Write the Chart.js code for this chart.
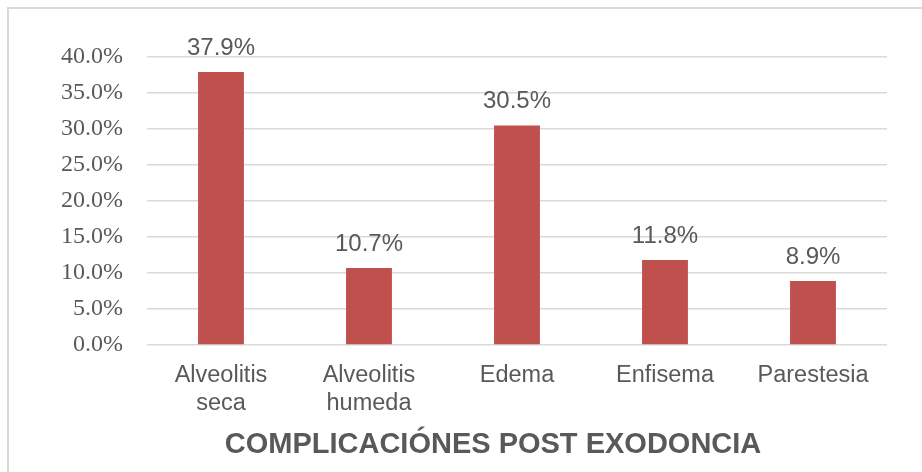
<!DOCTYPE html>
<html>
<head>
<meta charset="utf-8">
<script src="https://cdn.jsdelivr.net/npm/chart.js@4.4.0/dist/chart.umd.min.js"></script>
<style>
  html, body { margin: 0; padding: 0; background: #fff; overflow: hidden; }
  #frame { position: absolute; left: 7px; top: 7px; width: 960px; height: 500px;
           border-top: 2px solid #d9d9d9; border-left: 2px solid #d9d9d9; }
  #wrap { position: absolute; left: 0; top: 0; width: 922px; height: 472px; }
</style>
</head>
<body>
<div id="frame"></div>
<div id="wrap"><canvas id="complicacionesChart"></canvas></div>
<script>
// Datos del gráfico
const categorias = [['Alveolitis', 'seca'], ['Alveolitis', 'humeda'], 'Edema', 'Enfisema', 'Parestesia'];
const porcentajes = [37.9, 10.7, 30.5, 11.8, 8.9];
const ticksY = [0, 5, 10, 15, 20, 25, 30, 35, 40];
const tituloEje = 'COMPLICACIÓNES POST EXODONCIA';

const gris = '#595959';

// Etiquetas de valor sobre cada barra
const etiquetasValor = {
    id: 'etiquetasValor',
    afterDatasetsDraw(chart) {
        const ctx = chart.ctx;
        const meta = chart.getDatasetMeta(0);
        ctx.save();
        ctx.font = '24px "Liberation Sans", Arial, sans-serif';
        ctx.fillStyle = gris;
        ctx.textAlign = 'center';
        ctx.textBaseline = 'alphabetic';
        meta.data.forEach((bar, i) => {
            ctx.fillText(porcentajes[i].toFixed(1) + '%', bar.x, bar.y - 17);
        });
        ctx.restore();
    }
};

// Título del eje X (algo desplazado a la izquierda, como en el original)
const tituloAbajo = {
    id: 'tituloAbajo',
    afterDraw(chart) {
        const ctx = chart.ctx;
        ctx.save();
        ctx.font = 'bold 29px "Liberation Sans", Arial, sans-serif';
        ctx.fillStyle = gris;
        ctx.textAlign = 'center';
        ctx.textBaseline = 'alphabetic';
        ctx.fillText(tituloEje, chart.chartArea.left + 346, 453);
        ctx.restore();
    }
};

const ctx = document.getElementById('complicacionesChart').getContext('2d');
const complicacionesChart = new Chart(ctx, {
    type: 'bar',
    data: {
        labels: categorias,
        datasets: [{
            data: porcentajes,
            backgroundColor: '#C0504D',
            borderWidth: 0,
            categoryPercentage: 1,
            barPercentage: 0.31
        }]
    },
    options: {
        responsive: true,
        maintainAspectRatio: false,
        animation: false,
        layout: { padding: { left: 0, right: 35, top: 57, bottom: 54 } },
        plugins: {
            legend: { display: false },
            tooltip: { enabled: false },
            title: { display: false }
        },
        scales: {
            x: {
                afterFit(scale) { scale.height = 73; },
                grid: { display: false },
                border: { display: false },
                ticks: {
                    color: gris,
                    padding: 8,
                    maxRotation: 0,
                    font: { family: '"Liberation Sans", Arial, sans-serif', size: 23.5, lineHeight: 1.2 }
                }
            },
            y: {
                min: 0,
                max: 40,
                afterFit(scale) { scale.width = 147; },
                afterBuildTicks(scale) { scale.ticks = ticksY.map(v => ({ value: v })); },
                grid: { color: '#d9d9d9', lineWidth: 1.5, drawTicks: false },
                border: { display: false },
                ticks: {
                    color: gris,
                    padding: 24,
                    font: { family: '"Liberation Serif", "Times New Roman", serif', size: 24 },
                    callback: v => v.toFixed(1) + '%'
                }
            }
        }
    },
    plugins: [etiquetasValor, tituloAbajo]
});
</script>
</body>
</html>
